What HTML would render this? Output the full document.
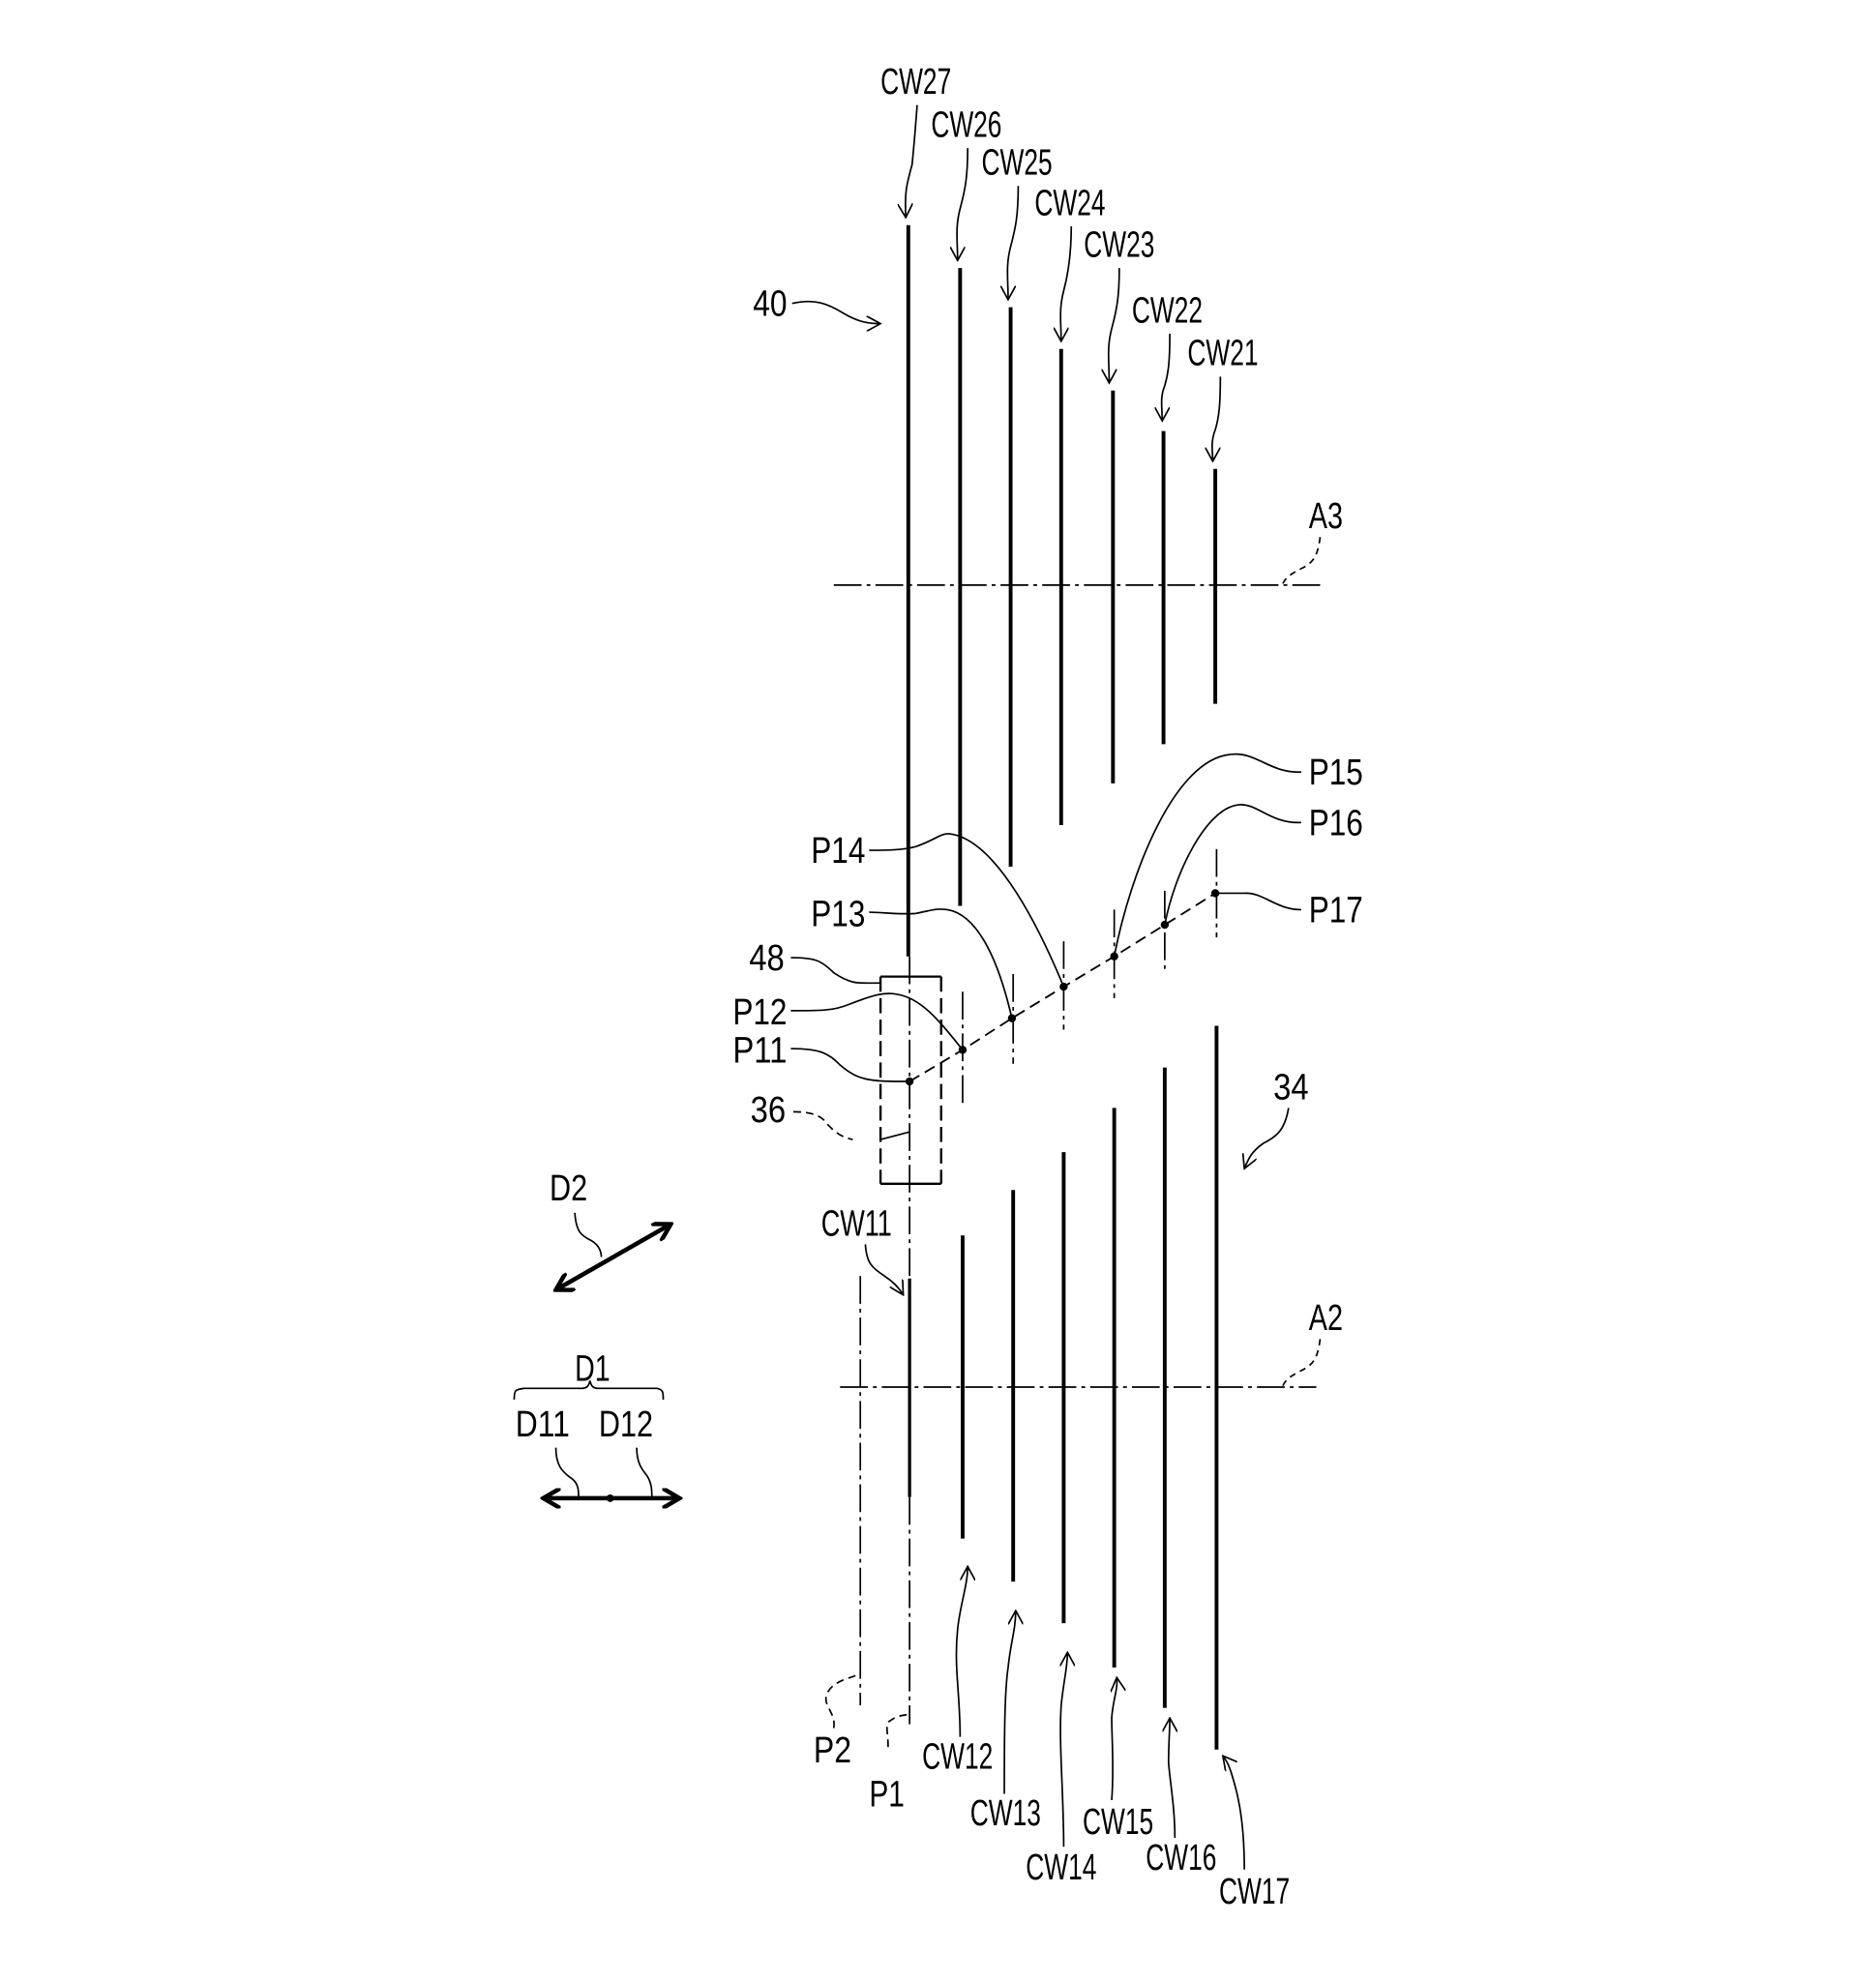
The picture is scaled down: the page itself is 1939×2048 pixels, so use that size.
<!DOCTYPE html>
<html><head><meta charset="utf-8"><style>html,body{margin:0;padding:0;background:#fff}svg{display:block}</style></head>
<body>
<svg xmlns="http://www.w3.org/2000/svg" width="1939" height="2048" viewBox="0 0 1485 1568">
<defs>
<marker id="a" viewBox="0 0 12 12" refX="11" refY="6" markerWidth="12" markerHeight="12" markerUnits="userSpaceOnUse" orient="auto"><path d="M0,0 L11,6 L0,12" fill="none" stroke="#000" stroke-width="1.3"/></marker>
<marker id="b" viewBox="0 0 14 14" refX="12" refY="7" markerWidth="16" markerHeight="16" markerUnits="userSpaceOnUse" orient="auto-start-reverse"><path d="M0,0 L12,7 L0,14" fill="none" stroke="#000" stroke-width="3"/></marker>
</defs>
<rect width="1485" height="1568" fill="#fff"/>
<g font-family="Liberation Sans, sans-serif" font-size="29" fill="#000" lengthAdjust="spacingAndGlyphs">
<text x="697" y="74" textLength="56" lengthAdjust="spacingAndGlyphs">CW27</text>
<text x="737" y="108" textLength="56" lengthAdjust="spacingAndGlyphs">CW26</text>
<text x="777" y="138" textLength="56" lengthAdjust="spacingAndGlyphs">CW25</text>
<text x="819" y="170" textLength="56" lengthAdjust="spacingAndGlyphs">CW24</text>
<text x="858" y="203" textLength="56" lengthAdjust="spacingAndGlyphs">CW23</text>
<text x="896" y="255" textLength="56" lengthAdjust="spacingAndGlyphs">CW22</text>
<text x="940" y="289" textLength="56" lengthAdjust="spacingAndGlyphs">CW21</text>
<text x="596" y="250" textLength="27" lengthAdjust="spacingAndGlyphs">40</text>
<text x="1036" y="418" textLength="27" lengthAdjust="spacingAndGlyphs">A3</text>
<text x="1036" y="621" textLength="43" lengthAdjust="spacingAndGlyphs">P15</text>
<text x="1036" y="661" textLength="43" lengthAdjust="spacingAndGlyphs">P16</text>
<text x="1036" y="730" textLength="43" lengthAdjust="spacingAndGlyphs">P17</text>
<text x="642" y="683" textLength="43" lengthAdjust="spacingAndGlyphs">P14</text>
<text x="642" y="733" textLength="43" lengthAdjust="spacingAndGlyphs">P13</text>
<text x="593" y="768" textLength="28" lengthAdjust="spacingAndGlyphs">48</text>
<text x="580" y="811" textLength="43" lengthAdjust="spacingAndGlyphs">P12</text>
<text x="580" y="841" textLength="43" lengthAdjust="spacingAndGlyphs">P11</text>
<text x="594" y="888" textLength="28" lengthAdjust="spacingAndGlyphs">36</text>
<text x="1008" y="870" textLength="28" lengthAdjust="spacingAndGlyphs">34</text>
<text x="435" y="950" textLength="30" lengthAdjust="spacingAndGlyphs">D2</text>
<text x="650" y="978" textLength="56" lengthAdjust="spacingAndGlyphs">CW11</text>
<text x="1036" y="1053" textLength="27" lengthAdjust="spacingAndGlyphs">A2</text>
<text x="455" y="1093" textLength="28" lengthAdjust="spacingAndGlyphs">D1</text>
<text x="408" y="1137" textLength="43" lengthAdjust="spacingAndGlyphs">D11</text>
<text x="474" y="1137" textLength="43" lengthAdjust="spacingAndGlyphs">D12</text>
<text x="644" y="1395" textLength="30" lengthAdjust="spacingAndGlyphs">P2</text>
<text x="688" y="1430" textLength="28" lengthAdjust="spacingAndGlyphs">P1</text>
<text x="730" y="1400" textLength="56" lengthAdjust="spacingAndGlyphs">CW12</text>
<text x="768" y="1445" textLength="56" lengthAdjust="spacingAndGlyphs">CW13</text>
<text x="812" y="1488" textLength="56" lengthAdjust="spacingAndGlyphs">CW14</text>
<text x="857" y="1452" textLength="56" lengthAdjust="spacingAndGlyphs">CW15</text>
<text x="907" y="1480" textLength="56" lengthAdjust="spacingAndGlyphs">CW16</text>
<text x="965" y="1507" textLength="56" lengthAdjust="spacingAndGlyphs">CW17</text>
</g>
<!-- thick lines -->
<g stroke="#000" stroke-width="3" fill="none">
<line x1="719" y1="178" x2="719" y2="757"/>
<line x1="760" y1="212" x2="760" y2="717"/>
<line x1="800" y1="243" x2="800" y2="686"/>
<line x1="840" y1="276" x2="840" y2="653"/>
<line x1="881" y1="309" x2="881" y2="620"/>
<line x1="921" y1="341" x2="921" y2="589"/>
<line x1="962" y1="371" x2="962" y2="557"/>
<line x1="720" y1="1012" x2="720" y2="1185" stroke-width="2.5"/>
<line x1="762" y1="978" x2="762" y2="1218"/>
<line x1="802" y1="942" x2="802" y2="1252"/>
<line x1="842" y1="912" x2="842" y2="1285"/>
<line x1="882" y1="877" x2="882" y2="1320"/>
<line x1="922" y1="845" x2="922" y2="1352"/>
<line x1="963" y1="812" x2="963" y2="1385"/>
</g>
<!-- dash-dot center lines -->
<g stroke="#000" stroke-width="1.3" fill="none" stroke-dasharray="22,4,3,4">
<line x1="720" y1="757" x2="720" y2="1010"/>
<line x1="720" y1="1185" x2="720" y2="1365"/>
<line x1="681" y1="1010" x2="681" y2="1350"/>
<line x1="660" y1="463" x2="1045" y2="463"/>
<line x1="665" y1="1098" x2="1042" y2="1098"/>
<line x1="762" y1="785" x2="762" y2="877"/>
<line x1="802" y1="771" x2="802" y2="842"/>
<line x1="842" y1="745" x2="842" y2="815"/>
<line x1="882" y1="720" x2="882" y2="790"/>
<line x1="922" y1="705" x2="922" y2="770"/>
<line x1="963" y1="672" x2="963" y2="742"/>
</g>
<!-- P dashed connecting line -->
<polyline points="720,856 762,831 801,806 842,781 882,757 922,732 962,707" fill="none" stroke="#000" stroke-width="1.4" stroke-dasharray="9,5"/>
<g fill="#000">
<circle cx="720" cy="856" r="3.2"/><circle cx="762" cy="831" r="3.2"/><circle cx="801" cy="806" r="3.2"/><circle cx="842" cy="781" r="3.2"/><circle cx="882" cy="757" r="3.2"/><circle cx="922" cy="732" r="3.2"/><circle cx="962" cy="707" r="3.2"/>
</g>
<!-- box 48 -->
<g stroke="#000" stroke-width="1.8" fill="none">
<line x1="697" y1="773" x2="745" y2="773"/>
<line x1="697" y1="937" x2="745" y2="937"/>
<line x1="697" y1="773" x2="697" y2="937" stroke-dasharray="12,5"/>
<line x1="745" y1="773" x2="745" y2="937" stroke-dasharray="12,5"/>
</g>
<!-- leaders -->
<g stroke="#000" stroke-width="1.3" fill="none">
<path d="M726,83 C724,110 724,110 722,130 C718,145 716,150 717,172" marker-end="url(#a)"/>
<path d="M766,117 C766,140 764,150 760,165 C756,180 758,190 758,206" marker-end="url(#a)"/>
<path d="M806,147 C806,170 804,180 800,195 C796,210 798,220 798,237" marker-end="url(#a)"/>
<path d="M848,179 C848,200 846,215 842,230 C838,245 840,255 840,270" marker-end="url(#a)"/>
<path d="M886,212 C886,235 884,245 880,260 C876,275 878,285 878,303" marker-end="url(#a)"/>
<path d="M926,264 C926,285 925,295 922,305 C918,315 920,322 920,333" marker-end="url(#a)"/>
<path d="M966,298 C966,320 965,330 962,340 C958,350 960,357 960,365" marker-end="url(#a)"/>
<path d="M627,240 C645,236 655,240 668,248 C680,255 688,256 697,256" marker-end="url(#a)"/>
<path d="M1045,425 C1043,440 1040,445 1030,450 C1020,455 1017,458 1015,463" stroke-dasharray="5,4"/>
<path d="M1030,611 C1005,612 995,595 975,597 C930,600 895,690 882,757"/>
<path d="M1030,651 C1005,652 995,635 980,637 C955,640 930,690 922,732"/>
<path d="M1030,720 C1010,720 1000,706 985,707 C975,707 970,707 962,707"/>
<path d="M688,673 C700,673 715,673 725,670 C740,665 745,659 752,660 C790,665 825,740 842,781"/>
<path d="M688,722 C700,722 710,724 725,723 C740,720 740,719 750,720 C780,725 795,780 801,806"/>
<path d="M626,758 C645,758 650,760 660,770 C675,780 680,778 697,778"/>
<path d="M626,800 C650,800 660,800 672,795 C690,788 700,785 710,787 C730,790 745,810 762,831"/>
<path d="M626,830 C650,830 656,834 665,843 C680,856 690,856 720,856"/>
<path d="M628,880 C640,880 650,882 655,890 C660,895 665,900 675,902" stroke-dasharray="6,4"/>
<path d="M697,902 L720,896"/>
<path d="M1020,877 C1017,895 1010,900 1000,905 C990,912 988,918 985,925" marker-end="url(#a)"/>
<path d="M685,985 C686,1000 690,1003 700,1010 C708,1015 712,1020 715,1025" marker-end="url(#a)"/>
<path d="M1045,1060 C1043,1075 1040,1080 1030,1085 C1020,1090 1017,1093 1015,1098" stroke-dasharray="5,4"/>
<path d="M455,960 C456,975 460,978 468,982 C475,986 476,992 476,995"/>
<path d="M407,1108 C407,1100 408,1100 415,1099 L460,1099 C465,1099 466,1097 467,1093 C468,1097 469,1099 474,1099 L520,1099 C525,1100 525,1102 525,1108"/>
<path d="M440,1146 C440,1160 445,1165 452,1170 C458,1174 458,1180 458,1185"/>
<path d="M504,1146 C504,1158 508,1163 512,1168 C516,1174 516,1180 516,1185"/>
<path d="M660,1368 C662,1355 650,1350 655,1340 C660,1330 675,1328 681,1325" stroke-dasharray="6,4"/>
<path d="M703,1383 C703,1370 700,1364 705,1362 C710,1358 715,1358 720,1357" stroke-dasharray="6,4"/>
<path d="M760,1375 C760,1340 755,1320 758,1290 C760,1270 766,1255 766,1240" marker-end="url(#a)"/>
<path d="M795,1420 C795,1380 795,1340 798,1320 C800,1300 804,1290 804,1275" marker-end="url(#a)"/>
<path d="M842,1462 C842,1420 838,1380 840,1350 C842,1330 845,1320 845,1308" marker-end="url(#a)"/>
<path d="M880,1425 C882,1400 880,1375 880,1360 C881,1345 885,1338 884,1328" marker-end="url(#a)"/>
<path d="M930,1455 C930,1430 926,1410 925,1395 C925,1380 926,1370 926,1360" marker-end="url(#a)"/>
<path d="M985,1480 C985,1450 982,1430 978,1415 C974,1400 972,1395 968,1390" marker-end="url(#a)"/>
</g>
<!-- bold direction arrows -->
<g stroke="#000" stroke-width="3.5" fill="none">
<line x1="440" y1="1021" x2="531" y2="969" marker-start="url(#b)" marker-end="url(#b)"/>
<line x1="430" y1="1186" x2="538" y2="1186" marker-start="url(#b)" marker-end="url(#b)"/>
</g>
<circle cx="483" cy="1186" r="3" fill="#000"/>
</svg>
</body></html>
